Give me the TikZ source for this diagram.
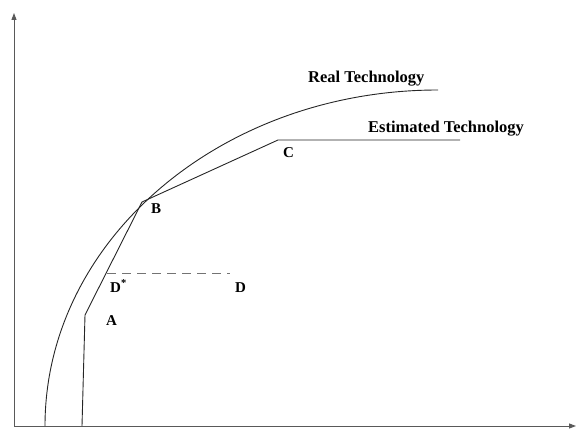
\documentclass[tikz,border=0pt]{standalone}
\usepackage{fontspec}
\setmainfont{Liberation Serif}
\usetikzlibrary{arrows.meta}
\tikzset{
  axis/.style={line width=0.9pt, draw=black!65, -{Triangle[length=7pt,width=5pt]}},
  frontier/.style={line width=0.9pt, draw=black!85},
  guide/.style={line width=0.8pt, draw=black!55, dash pattern=on 9pt off 6pt},
  tag/.style={font=\fontsize{15}{18}\selectfont\bfseries, inner sep=0pt, anchor=base west},
  title/.style={font=\fontsize{16.5}{19}\selectfont\bfseries, inner sep=0pt, anchor=base west}
}
\begin{document}
\begin{tikzpicture}[x=1pt,y=-1pt]
\useasboundingbox (0,0) rectangle (577,430);
% axes
\coordinate (O) at (14,426);
\coordinate (ytop) at (14,13);
\coordinate (xright) at (576,426);
\draw[axis] (O) -- (ytop);
\draw[axis] (O) -- (xright);
% real technology
\coordinate (R0) at (45,426);
\draw[frontier] (R0) arc[start angle=180, end angle=270, x radius=393, y radius=336];
% estimated technology
\coordinate (E0) at (82,426);
\coordinate (A) at (85,315);
\coordinate (B) at (142,202);
\coordinate (C) at (278,140);
\coordinate (E1) at (460,140);
\draw[frontier] (E0) -- (A) -- (B) -- (C) -- (E1);
% projection of D
\coordinate (Dstar) at (107,273);
\coordinate (D) at (230,273);
\draw[guide] (Dstar) -- (D);
% labels
\node[tag] (lA) at (106,325) {A};
\node[tag] (lB) at (151,213) {B};
\node[tag] (lC) at (283,158) {C};
\node[tag] (lDstar) at (110,292) {D\textsuperscript{*}};
\node[tag] (lD) at (235,292) {D};
\node[title] (real) at (308,83) {Real Technology};
\node[title] (est) at (368,133) {Estimated Technology};
\end{tikzpicture}
\end{document}
